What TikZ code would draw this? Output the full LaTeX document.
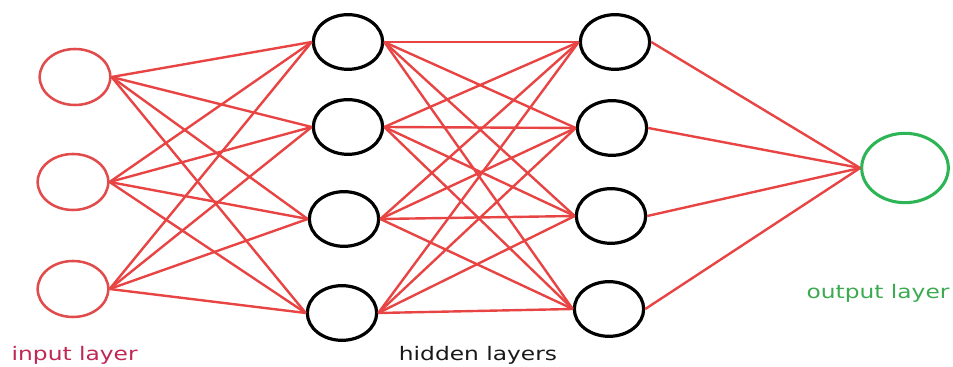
\documentclass[tikz,border=0pt]{standalone}
\usepackage{fontspec}
\setmainfont{DejaVu Sans}
\usetikzlibrary{shapes.geometric}
\definecolor{inputred}{RGB}{225,75,75}
\definecolor{linkred}{RGB}{232,68,68}
\definecolor{inputlabel}{RGB}{190,40,85}
\definecolor{outputgreen}{RGB}{45,180,85}
\definecolor{outputlabel}{RGB}{60,170,80}
\definecolor{hiddenlabel}{RGB}{25,25,25}
\tikzset{
    neuron/.style={ellipse, minimum width=53pt, minimum height=42pt, inner sep=0pt},
    inputneuron/.style={neuron, draw=inputred, line width=1.9pt},
    hiddenneuron/.style={neuron, draw=black, line width=2.4pt, minimum width=52pt, minimum height=41pt},
    outputneuron/.style={neuron, draw=outputgreen, line width=2.3pt, minimum width=65pt, minimum height=52pt},
    link/.style={draw=linkred, line width=1.8pt},
    layerlabel/.style={font=\fontsize{14}{16}\selectfont}
}
\newcommand{\widetext}[1]{\scalebox{1.25}[1]{#1}}

\begin{document}
\begin{tikzpicture}[x=0.75pt, y=0.75pt]

\useasboundingbox (0,0) rectangle (953,367);

% Input layer
\node[inputneuron] (in1) at (75,290) {};
\node[inputneuron] (in2) at (73,185) {};
\node[inputneuron] (in3) at (73,78) {};

% First hidden layer
\node[hiddenneuron] (ha1) at (348,325) {};
\node[hiddenneuron] (ha2) at (348,240) {};
\node[hiddenneuron] (ha3) at (344,148) {};
\node[hiddenneuron] (ha4) at (342,54) {};

% Second hidden layer
\node[hiddenneuron] (hb1) at (615,325) {};
\node[hiddenneuron] (hb2) at (612,239) {};
\node[hiddenneuron] (hb3) at (611,151) {};
\node[hiddenneuron] (hb4) at (609,58) {};

% Output layer
\node[outputneuron] (out) at (905,199) {};

% Links
\foreach \i in {1,2,3}
    \foreach \j in {1,...,4}
        \draw[link] (in\i.east) -- (ha\j.west);
\foreach \i in {1,...,4}
    \foreach \j in {1,...,4}
        \draw[link] (ha\i.east) -- (hb\j.west);
\foreach \i in {1,...,4}
    \draw[link] (hb\i.east) -- (out.west);

% Layer labels
\node[layerlabel, text=inputlabel, anchor=west] (inlabel) at (7,12) {\widetext{input layer}};
\node[layerlabel, text=hiddenlabel] (hiddenlabel) at (478,12) {\widetext{hidden layers}};
\node[layerlabel, text=outputlabel] (outlabel) at (878,74) {\widetext{output layer}};

\end{tikzpicture}
\end{document}
